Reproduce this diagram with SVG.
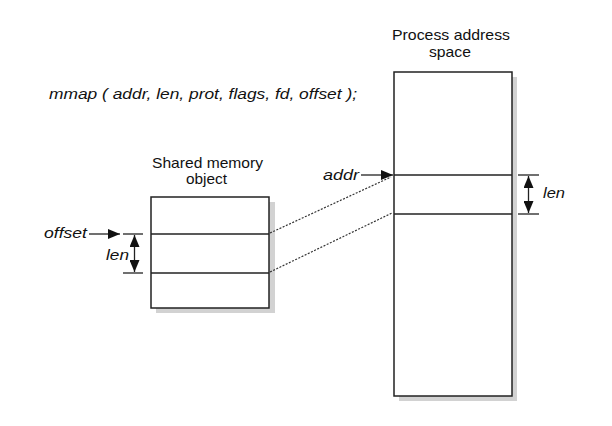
<svg xmlns="http://www.w3.org/2000/svg" width="612" height="426" viewBox="0 0 612 426">
<defs>
<style>
text{font-family:"Liberation Sans",Arial,sans-serif;font-size:15px;fill:#111}
.it{font-style:italic}
.box{fill:#fff;stroke:#222;stroke-width:1.5}
.shadow{fill:#d2d2d2}
.ln{stroke:#222;stroke-width:1.3;fill:none}
.dot{stroke:#333;stroke-width:1.2;stroke-dasharray:2 1.5;fill:none}
</style>
<marker id="ah" viewBox="0 0 12 10" refX="12" refY="5" markerWidth="12" markerHeight="10" markerUnits="userSpaceOnUse" orient="auto-start-reverse">
<path d="M0,0 L12,5 L0,10 z" fill="#111"/>
</marker>
</defs>
<rect width="612" height="426" fill="#fff"/>
<text class="it" x="49" y="99" textLength="308" lengthAdjust="spacingAndGlyphs">mmap ( addr, len, prot, flags, fd, offset );</text>
<g id="shared">
<rect class="shadow" x="156" y="202" width="119" height="111"/>
<rect class="box" x="151" y="197" width="118" height="111"/>
<line class="ln" x1="151" y1="234" x2="269" y2="234"/>
<line class="ln" x1="151" y1="273" x2="269" y2="273"/>
<text x="152" y="168" textLength="111" lengthAdjust="spacingAndGlyphs">Shared memory</text>
<text x="186" y="184" textLength="41" lengthAdjust="spacingAndGlyphs">object</text>
</g>
<g id="process">
<rect class="shadow" x="399" y="77" width="118" height="324"/>
<rect class="box" x="394" y="72" width="118" height="324"/>
<line class="ln" x1="394" y1="175" x2="512" y2="175"/>
<line class="ln" x1="394" y1="214" x2="512" y2="214"/>
<text x="392" y="40" textLength="118" lengthAdjust="spacingAndGlyphs">Process address</text>
<text x="429" y="57" textLength="42" lengthAdjust="spacingAndGlyphs">space</text>
</g>
<g id="offset-label">
<text class="it" x="44" y="238" textLength="43" lengthAdjust="spacingAndGlyphs">offset</text>
<line class="ln" x1="89" y1="234" x2="120" y2="234" marker-end="url(#ah)"/>
<line class="ln" x1="123" y1="234" x2="143" y2="234"/>
<line class="ln" x1="123" y1="273" x2="143" y2="273"/>
<line class="ln" x1="134.5" y1="235" x2="134.5" y2="272" marker-start="url(#ah)" marker-end="url(#ah)"/>
<text class="it" x="106" y="260" textLength="23" lengthAdjust="spacingAndGlyphs">len</text>
</g>
<g id="addr-label">
<text class="it" x="323" y="180" textLength="36" lengthAdjust="spacingAndGlyphs">addr</text>
<line class="ln" x1="361" y1="175" x2="393" y2="175" marker-end="url(#ah)"/>
<line class="ln" x1="518" y1="175" x2="539" y2="175"/>
<line class="ln" x1="518" y1="214" x2="539" y2="214"/>
<line class="ln" x1="528.5" y1="176" x2="528.5" y2="213" marker-start="url(#ah)" marker-end="url(#ah)"/>
<text class="it" x="543" y="198" textLength="22" lengthAdjust="spacingAndGlyphs">len</text>
</g>
<g id="connectors">
<line class="dot" x1="270" y1="233" x2="391" y2="177"/>
<line class="dot" x1="270" y1="272" x2="392" y2="213"/>
</g>
</svg>
